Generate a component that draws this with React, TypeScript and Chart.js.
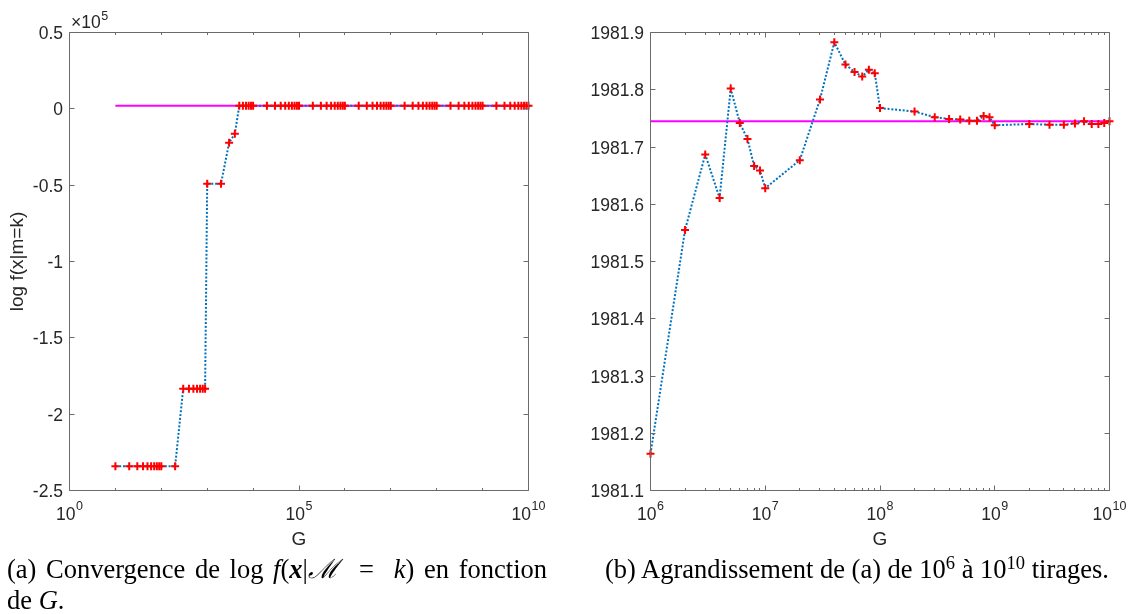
import React, { useEffect, useRef } from "react";
import { Chart, registerables } from "chart.js";

Chart.register(...registerables);

const SANS = '"Liberation Sans", Arial, Helvetica, sans-serif';
const SERIF = '"Liberation Serif", "Times New Roman", Times, serif';
const AXIS_COLOR = "#6b6b6b";
const TEXT_COLOR = "#262626";
const BLUE = "#0072BD";
const RED = "#ff0000";
const MAGENTA = "#ff00ff";

// ---------- data ----------
// number of draws G (left panel, 10 .. 1e10)
const gLeft = [
  1e1, 2e1, 3e1, 4e1, 5e1, 6e1, 7e1, 8e1, 9e1,
  1e2, 2e2, 3e2, 4e2, 5e2, 6e2, 7e2, 8e2, 9e2,
  1e3, 2e3, 3e3, 4e3, 5e3, 6e3, 7e3, 8e3, 9e3,
  1e4, 2e4, 3e4, 4e4, 5e4, 6e4, 7e4, 8e4, 9e4,
  1e5, 2e5, 3e5, 4e5, 5e5, 6e5, 7e5, 8e5, 9e5,
  1e6, 2e6, 3e6, 4e6, 5e6, 6e6, 7e6, 8e6, 9e6,
  1e7, 2e7, 3e7, 4e7, 5e7, 6e7, 7e7, 8e7, 9e7,
  1e8, 2e8, 3e8, 4e8, 5e8, 6e8, 7e8, 8e8, 9e8,
  1e9, 2e9, 3e9, 4e9, 5e9, 6e9, 7e9, 8e9, 9e9,
  1e10,
];

// log f(x|M=k) estimates for G = 10 .. 9e5
const earlyLeftValues = [
  -234100, -234100, -234100, -234100, -234100, -234100, -234100, -234100, -234100,
  -234100, -234100, -183300, -183300, -183300, -183300, -183300, -183300, -183300,
  -49100, -49100, -22200, -16300, 1965, 1990, 1978, 1972, 1986,
  1979, 1984, 1981, 1977, 1983, 1980, 1982, 1979, 1981,
  1981.4, 1981.9, 1982.1, 1981.5, 1981.2, 1981.8, 1982.0, 1981.6, 1981.3,
];

// zoomed panel: G = 1e6 .. 1e10
const gRight = [
  1e6, 2e6, 3e6, 4e6, 5e6, 6e6, 7e6, 8e6, 9e6,
  1e7, 2e7, 3e7, 4e7, 5e7, 6e7, 7e7, 8e7, 9e7,
  1e8, 2e8, 3e8, 4e8, 5e8, 6e8, 7e8, 8e8, 9e8,
  1e9, 2e9, 3e9, 4e9, 5e9, 6e9, 7e9, 8e9, 9e9,
  1e10,
];
const valuesRight = [
  1981.164, 1981.555, 1981.687, 1981.611, 1981.802, 1981.742, 1981.714, 1981.667, 1981.659,
  1981.628, 1981.677, 1981.783, 1981.883, 1981.844, 1981.831, 1981.823, 1981.835, 1981.829,
  1981.768, 1981.762, 1981.752, 1981.749, 1981.748, 1981.746, 1981.746, 1981.754, 1981.752,
  1981.738, 1981.740, 1981.739, 1981.739, 1981.741, 1981.745, 1981.740, 1981.740, 1981.742,
  1981.745,
];
const valuesLeft = [...earlyLeftValues, ...valuesRight];

// reference value (magenta line)
const refValue = 1981.745;
const refLeftRange = [1e1, 1e10];
const refRightRange = [1e6, 1e10];

// axes
const leftYTicks = [-250000, -200000, -150000, -100000, -50000, 0, 50000];
const leftYTickLabels = ["-2.5", "-2", "-1.5", "-1", "-0.5", "0", "0.5"];
const leftYExponent = "5";
const leftXMajorExp = [0, 5, 10];
const leftXMinorExp = [1, 2, 3, 4, 6, 7, 8, 9];
const leftYTitle = "log f(x|m=k)";

const rightYTicks = [1981.1, 1981.2, 1981.3, 1981.4, 1981.5, 1981.6, 1981.7, 1981.8, 1981.9];
const rightYTickLabels = ["1981.1", "1981.2", "1981.3", "1981.4", "1981.5", "1981.6", "1981.7", "1981.8", "1981.9"];
const rightXMajorExp = [6, 7, 8, 9, 10];
const rightXMinorMant = [2, 3, 4, 5, 6, 7, 8, 9];
const xTitle = "G";

// ---------- MATLAB-like axes plugin ----------
const matlabAxes = {
  id: "matlabAxes",
  afterDraw(chart: any, _args: any, opts: any) {
    const { ctx, chartArea: a } = chart;
    const xs = chart.scales.x;
    const ys = chart.scales.y;
    const L = a.left, R = a.right, T = a.top, B = a.bottom;
    const snap = (v: number) => Math.floor(v) + 0.5;
    ctx.save();
    ctx.strokeStyle = AXIS_COLOR;
    ctx.lineWidth = 1;
    ctx.setLineDash([]);
    ctx.beginPath();
    const xTick = (v: number, len: number) => {
      const p = snap(xs.getPixelForValue(v));
      ctx.moveTo(p, B); ctx.lineTo(p, B - len);
      ctx.moveTo(p, T); ctx.lineTo(p, T + len);
    };
    const yTick = (v: number, len: number) => {
      const p = snap(ys.getPixelForValue(v));
      ctx.moveTo(L, p); ctx.lineTo(L + len, p);
      ctx.moveTo(R, p); ctx.lineTo(R - len, p);
    };
    (opts.xMajor as number[]).forEach((v) => xTick(v, 5));
    (opts.xMinor as number[]).forEach((v) => xTick(v, 2.5));
    (opts.yTicks as number[]).forEach((v) => yTick(v, 5));
    ctx.rect(L, T, R - L, B - T);
    ctx.stroke();

    ctx.fillStyle = TEXT_COLOR;
    // y tick labels
    ctx.font = `17.5px ${SANS}`;
    ctx.textAlign = "right";
    ctx.textBaseline = "alphabetic";
    (opts.yTicks as number[]).forEach((v, i) => {
      ctx.fillText(opts.yLabels[i], L - 6.5, ys.getPixelForValue(v) + 6.6);
    });

    // x tick labels: 10^e
    (opts.xMajorExp as number[]).forEach((e) => {
      const px = xs.getPixelForValue(Math.pow(10, e));
      ctx.font = `17.5px ${SANS}`;
      const wb = ctx.measureText("10").width;
      ctx.font = `12.5px ${SANS}`;
      const we = ctx.measureText(String(e)).width;
      const start = px - (wb + we + 0.5) / 2;
      ctx.textAlign = "left";
      ctx.font = `17.5px ${SANS}`;
      ctx.fillText("10", start, B + 29.5);
      ctx.font = `12.5px ${SANS}`;
      ctx.fillText(String(e), start + wb + 0.5, B + 19);
    });

    // exponent label ×10^n
    if (opts.yExponent) {
      ctx.textAlign = "left";
      ctx.font = `17.5px ${SANS}`;
      const w = ctx.measureText("×10").width;
      ctx.fillText("×10", L + 1.5, T - 4.2);
      ctx.font = `12.5px ${SANS}`;
      ctx.fillText(opts.yExponent, L + 1.5 + w + 0.5, T - 12.5);
    }

    // x title
    ctx.font = `19px ${SANS}`;
    ctx.textAlign = "center";
    ctx.fillText(opts.xTitle, (L + R) / 2, B + 54.5);

    // y title
    if (opts.yTitle) {
      ctx.save();
      ctx.translate(L - 46.5, (T + B) / 2);
      ctx.rotate(-Math.PI / 2);
      ctx.textAlign = "center";
      ctx.fillText(opts.yTitle, 0, 0);
      ctx.restore();
    }
    ctx.restore();
  },
};

function makeConfig(p: {
  g: number[];
  values: number[];
  refRange: number[];
  xMin: number; xMax: number; yMin: number; yMax: number;
  padding: { left: number; right: number; top: number; bottom: number };
  axes: any;
}): any {
  return {
    type: "line",
    data: {
      datasets: [
        {
          label: "log f",
          data: p.g.map((x, i) => ({ x, y: p.values[i] })),
          borderColor: BLUE,
          borderWidth: 2,
          borderDash: [2, 1.8],
          pointStyle: "cross",
          pointRadius: 4,
          pointHoverRadius: 4,
          pointBorderColor: RED,
          pointBackgroundColor: RED,
          pointBorderWidth: 2,
          tension: 0,
          fill: false,
          clip: false,
          order: 1,
        },
        {
          label: "ref",
          data: p.refRange.map((x) => ({ x, y: refValue })),
          borderColor: MAGENTA,
          borderWidth: 2,
          pointRadius: 0,
          tension: 0,
          fill: false,
          clip: false,
          order: 2,
        },
      ],
    },
    options: {
      animation: false,
      responsive: false,
      devicePixelRatio: 1,
      events: [],
      layout: { padding: p.padding },
      plugins: {
        legend: { display: false },
        tooltip: { enabled: false },
        matlabAxes: p.axes,
      },
      scales: {
        x: { type: "logarithmic", min: p.xMin, max: p.xMax, display: false },
        y: { type: "linear", min: p.yMin, max: p.yMax, display: false },
      },
    },
    plugins: [matlabAxes],
  };
}

const CANVAS_H = 555;

export default function App() {
  const leftRef = useRef<HTMLCanvasElement>(null);
  const rightRef = useRef<HTMLCanvasElement>(null);

  useEffect(() => {
    const rightMinor: number[] = [];
    rightXMajorExp.slice(0, -1).forEach((e) =>
      rightXMinorMant.forEach((m) => rightMinor.push(m * Math.pow(10, e)))
    );
    const c1 = new Chart(
      leftRef.current as HTMLCanvasElement,
      makeConfig({
        g: gLeft,
        values: valuesLeft,
        refRange: refLeftRange,
        xMin: 1, xMax: 1e10, yMin: -250000, yMax: 50000,
        padding: { left: 69.5, top: 32.5, right: 560 - 528.5, bottom: CANVAS_H - 490.5 },
        axes: {
          xMajor: leftXMajorExp.map((e) => Math.pow(10, e)),
          xMajorExp: leftXMajorExp,
          xMinor: leftXMinorExp.map((e) => Math.pow(10, e)),
          yTicks: leftYTicks,
          yLabels: leftYTickLabels,
          yExponent: leftYExponent,
          xTitle,
          yTitle: leftYTitle,
        },
      })
    );
    const c2 = new Chart(
      rightRef.current as HTMLCanvasElement,
      makeConfig({
        g: gRight,
        values: valuesRight,
        refRange: refRightRange,
        xMin: 1e6, xMax: 1e10, yMin: 1981.1, yMax: 1981.9,
        padding: { left: 650.5 - 565, top: 32.5, right: 566 - (1109.5 - 565), bottom: CANVAS_H - 490.5 },
        axes: {
          xMajor: rightXMajorExp.map((e) => Math.pow(10, e)),
          xMajorExp: rightXMajorExp,
          xMinor: rightMinor,
          yTicks: rightYTicks,
          yLabels: rightYTickLabels,
          yExponent: null,
          xTitle,
          yTitle: null,
        },
      })
    );
    return () => {
      c1.destroy();
      c2.destroy();
    };
  }, []);

  const supStyle: React.CSSProperties = {
    fontSize: "0.7em",
    verticalAlign: "baseline",
    position: "relative",
    top: "-0.45em",
  };

  const captionBase: React.CSSProperties = {
    position: "absolute",
    top: 553.5,
    fontFamily: SERIF,
    fontSize: 26.5,
    lineHeight: "31px",
    color: "#000",
    whiteSpace: "nowrap",
  };

  return (
    <div
      style={{
        position: "absolute",
        left: 0,
        top: 0,
        width: 1131,
        height: 614,
        background: "#ffffff",
        overflow: "hidden",
      }}
    >
      <canvas
        ref={leftRef}
        width={560}
        height={CANVAS_H}
        style={{ position: "absolute", left: 0, top: 0, width: 560, height: CANVAS_H }}
      />
      <canvas
        ref={rightRef}
        width={566}
        height={CANVAS_H}
        style={{ position: "absolute", left: 565, top: 0, width: 566, height: CANVAS_H }}
      />
      <div style={{ ...captionBase, left: 7, width: 540 }}>
        <div style={{ display: "flex", justifyContent: "space-between", wordSpacing: "3px" }}>
          <span style={{ whiteSpace: "pre" }}>
            (a) Convergence de log <i>f</i>(<b><i>x</i></b>|<i>ℳ</i>
          </span>
          <span>=</span>
          <span style={{ whiteSpace: "pre" }}>
            <i>k</i>) en fonction
          </span>
        </div>
        <div>
          de <i>G</i>.
        </div>
      </div>
      <div style={{ ...captionBase, left: 557, width: 600, textAlign: "center" }}>
        (b) Agrandissement de (a) de 10<sup style={supStyle}>6</sup> à 10
        <sup style={supStyle}>10</sup> tirages.
      </div>
    </div>
  );
}
